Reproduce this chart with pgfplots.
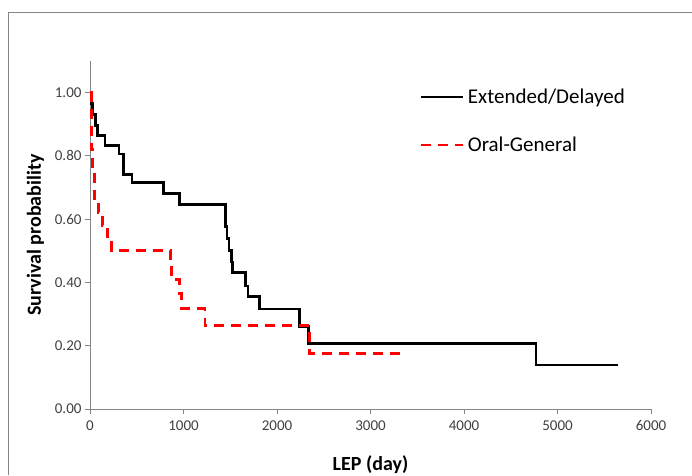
\documentclass[border=0pt]{standalone}
\usepackage{fontspec}
\setmainfont{Carlito}
\usepackage{pgfplots}
\pgfplotsset{compat=1.18}
\definecolor{axgray}{HTML}{868686}
\definecolor{lblgray}{HTML}{404040}
\begin{document}
\begin{tikzpicture}
\useasboundingbox (0pt,0pt) rectangle (692pt,-475pt);
\draw[axgray, line width=1pt] (692pt,-12pt) -- (8pt,-12pt) -- (8pt,-475pt);
\begin{axis}[
  at={(90pt,-409pt)}, anchor=south west,
  scale only axis, width=561pt, height=348pt,
  xmin=0, xmax=6000, ymin=0, ymax=1.1,
  axis x line=bottom, axis y line=left,
  axis line style={draw=axgray, line width=1pt, -},
  xtick={0,1000,2000,3000,4000,5000,6000},
  ytick={0,0.2,0.4,0.6,0.8,1},
  tick align=outside, major tick length=5pt,
  tick style={draw=axgray, line width=1pt},
  /pgf/number format/assume math mode=true,
  xticklabel style={/pgf/number format/1000 sep={}, yshift=-3pt},
  yticklabel style={/pgf/number format/.cd, fixed, fixed zerofill, precision=2},
  ticklabel style={font=\fontsize{15}{17}\selectfont, text=lblgray},
  xlabel={LEP (day)}, ylabel={Survival probability},
  label style={font=\fontsize{20}{22}\selectfont\bfseries},
  xlabel style={yshift=-18pt},
  ylabel style={yshift=4pt},
  legend style={at={(0.588,0.926)}, anchor=north west, draw=none, fill=none,
    font=\fontsize{21}{23}\selectfont, row sep=28pt, inner sep=0pt,
    /tikz/every odd column/.append style={column sep=1pt}},
  legend cell align=left,
  legend image code/.code={\draw[#1] (0pt,0pt) -- (42pt,0pt);},
]
\addplot[const plot, black, line width=2.8pt] coordinates {
(0,1)(15,0.966)(25,0.931)(60,0.897)(80,0.865)(160,0.834)(310,0.806)(355,0.742)
(450,0.715)(790,0.682)(955,0.647)(1445,0.576)(1465,0.539)(1487,0.500)(1515,0.465)
(1527,0.432)(1665,0.389)(1690,0.356)(1810,0.316)(2240,0.260)(2335,0.208)
(4770,0.139)(5650,0.139)};
\addlegendentry{Extended/Delayed}
\addplot[const plot, red, line width=2.8pt, dash pattern=on 10pt off 7pt] coordinates {
(0,1)(12,0.82)(30,0.75)(50,0.66)(90,0.62)(130,0.58)(190,0.54)(230,0.50)
(865,0.455)(875,0.41)(955,0.364)(975,0.318)(1230,0.265)(2350,0.176)(3370,0.176)};
\addlegendentry{Oral-General}
\end{axis}
\end{tikzpicture}
\end{document}
